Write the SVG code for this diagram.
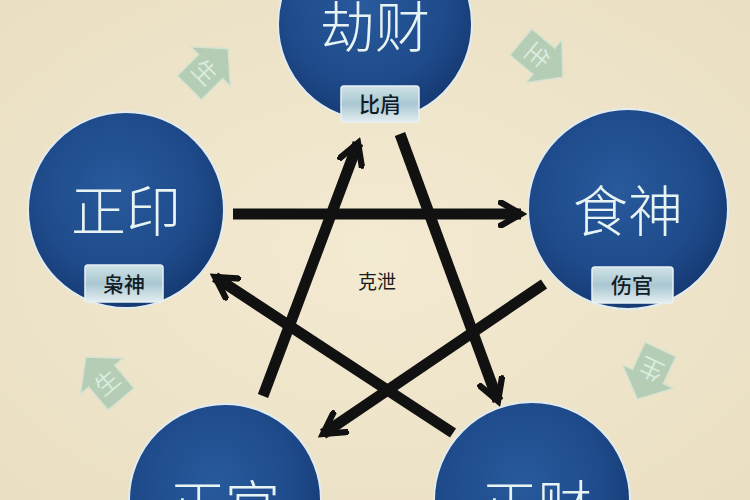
<svg xmlns="http://www.w3.org/2000/svg" width="750" height="500" viewBox="0 0 750 500">
  <defs>
    <radialGradient id="bg" cx="50%" cy="50%" r="70%">
      <stop offset="0" stop-color="#f3ead2"/>
      <stop offset="1" stop-color="#eadfc2"/>
    </radialGradient>
    <radialGradient id="disc" cx="45%" cy="40%" r="60%">
      <stop offset="0" stop-color="#285a9c"/>
      <stop offset="0.7" stop-color="#1e4a8a"/>
      <stop offset="1" stop-color="#163b74"/>
    </radialGradient>
    <linearGradient id="tag" x1="0" y1="0" x2="0" y2="1">
      <stop offset="0" stop-color="#cfe2e6"/>
      <stop offset="0.5" stop-color="#a9c7d2"/>
      <stop offset="1" stop-color="#e3eef0"/>
    </linearGradient>
    <marker id="head" viewBox="0 0 10 10" refX="8" refY="5" markerWidth="2.6" markerHeight="2.6" orient="auto" markerUnits="strokeWidth">
      <path d="M1,1 L8,5 L1,9" fill="none" stroke="#111" stroke-width="2.2" stroke-linecap="square" stroke-linejoin="miter"/>
    </marker>
    <path id="gen" d="M0,-30 L28,-5 L17,-5 L17,25 L-17,25 L-17,-5 L-28,-5 Z"/>
  </defs>
  <style>
    .disc { fill: url(#disc); stroke: #e2ebef; stroke-width: 2; }
    .big { font-family: "Noto Sans CJK SC", "Noto Sans CJK JP", sans-serif; font-size: 55px; fill: #e8f4f4; text-anchor: middle; font-weight: 300; }
    .tagbox { fill: url(#tag); stroke: #e8f1f3; stroke-width: 1.5; }
    .tagtxt { font-family: "Noto Sans CJK SC", sans-serif; font-size: 21px; fill: #111c26; text-anchor: middle; font-weight: 500; }
    .conn { stroke: #111; stroke-width: 11; fill: none; marker-end: url(#head); }
    .gen { fill: #9cc4ac; stroke: #cde3d4; stroke-width: 1.5; opacity: 0.7; }
    .gentxt { font-family: "Noto Sans CJK SC", sans-serif; font-size: 24px; fill: #e2f1e6; text-anchor: middle; opacity: 0.85; }
    .mid { font-family: "Noto Sans CJK SC", sans-serif; font-size: 19px; fill: #1a1a1a; text-anchor: middle; }
  </style>

  <rect width="750" height="500" fill="url(#bg)"/>

  <g id="sheng-arrows">
    <g transform="translate(207,70) rotate(45)"><use href="#gen" class="gen"/><text class="gentxt" y="12">生</text></g>
    <g transform="translate(540,58) rotate(130)"><use href="#gen" class="gen"/><text class="gentxt" y="12">生</text></g>
    <g transform="translate(650,372) rotate(205)"><use href="#gen" class="gen"/><text class="gentxt" y="12">生</text></g>
    <g transform="translate(105,380) rotate(-40)"><use href="#gen" class="gen"/><text class="gentxt" y="12">生</text></g>
  </g>

  <g id="node-jiecai">
    <circle class="disc" cx="375" cy="24" r="97"/>
    <text class="big" x="375" y="47">劫财</text>
    <rect class="tagbox" x="341" y="86" width="78" height="36" rx="3"/>
    <text class="tagtxt" x="380" y="112">比肩</text>
  </g>

  <g id="node-zhengyin">
    <circle class="disc" cx="126" cy="210" r="98"/>
    <text class="big" x="126" y="231">正印</text>
    <rect class="tagbox" x="85" y="265" width="78" height="37" rx="3"/>
    <text class="tagtxt" x="124" y="292">枭神</text>
  </g>

  <g id="node-shishen">
    <circle class="disc" cx="628" cy="209" r="100"/>
    <text class="big" x="628" y="231">食神</text>
    <rect class="tagbox" x="592" y="267" width="81" height="36" rx="3"/>
    <text class="tagtxt" x="632" y="293">伤官</text>
  </g>

  <g id="node-zhengguan">
    <circle class="disc" cx="225" cy="500" r="96"/>
    <text class="big" x="225" y="526">正官</text>
  </g>

  <g id="node-zhengcai">
    <circle class="disc" cx="532" cy="500" r="98"/>
    <text class="big" x="537" y="526">正财</text>
  </g>

  <g id="connectors">
    <line class="conn" x1="233" y1="214" x2="521" y2="214"/>
    <line class="conn" x1="263" y1="396" x2="358" y2="143"/>
    <line class="conn" x1="400" y1="134" x2="498" y2="401"/>
    <line class="conn" x1="544" y1="284" x2="323" y2="434"/>
    <line class="conn" x1="453" y1="433" x2="215" y2="277"/>
  </g>

  <text class="mid" x="377" y="289">克泄</text>
</svg>
